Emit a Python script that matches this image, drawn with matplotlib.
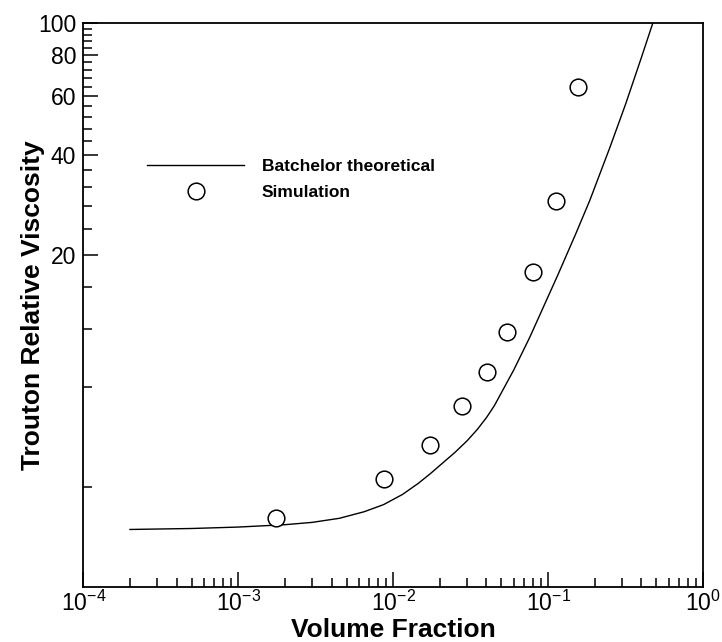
import matplotlib
matplotlib.use("Agg")
import matplotlib.pyplot as plt
from matplotlib.ticker import FixedLocator, LogLocator, LogFormatterMathtext, NullFormatter, FixedFormatter

plt.rcParams["font.family"] = ["Liberation Sans", "DejaVu Sans"]
plt.rcParams["mathtext.fontset"] = "custom"
plt.rcParams["mathtext.rm"] = "Liberation Sans"
plt.rcParams["mathtext.it"] = "Liberation Sans:italic"
plt.rcParams["mathtext.bf"] = "Liberation Sans:bold"

# Batchelor theoretical curve
theory_phi = [2e-4, 5e-4, 1e-3, 2e-3, 3e-3, 4.5e-3, 6.5e-3, 8.67e-3, 0.0115,
              0.0145, 0.0173, 0.025, 0.03, 0.035, 0.04, 0.045, 0.06, 0.0762,
              0.095, 0.1156, 0.15, 0.186, 0.25, 0.317, 0.40, 0.475]
theory_visc = [2.98, 3.00, 3.03, 3.08, 3.13, 3.22, 3.37, 3.54, 3.80,
               4.10, 4.38, 5.08, 5.51, 5.97, 6.47, 7.03, 9.0, 11.3,
               14.2, 17.4, 23.0, 29.2, 42.0, 57.0, 78.5, 100.0]

# simulation results
sim_phi = [0.00174, 0.00867, 0.0173, 0.0279, 0.0401, 0.054, 0.080, 0.112, 0.156]
sim_visc = [3.23, 4.23, 5.35, 7.02, 8.85, 11.7, 17.7, 29.1, 64.0]

y_major = [20, 40, 60, 80, 100]
y_minor = [v for v in range(4, 100, 4) if v % 20 != 0]

fig = plt.figure(figsize=(7.22, 6.42), dpi=100)
ax = fig.add_axes([0.1154, 0.0857, 0.8583, 0.8789])

ax.plot(theory_phi, theory_visc, color="black", lw=1.0, label="Batchelor theoretical")
ax.plot(sim_phi, sim_visc, ls="none", marker="o", ms=12, mfc="white", mec="black",
        mew=1.1, label="Simulation")

ax.set_xscale("log")
ax.set_yscale("log")
ax.set_xlim(1e-4, 1e0)
ax.set_ylim(2, 100)

ax.xaxis.set_major_locator(LogLocator(base=10, numticks=10))
ax.xaxis.set_major_formatter(LogFormatterMathtext())
ax.xaxis.set_minor_locator(LogLocator(base=10, subs=range(2, 10), numticks=20))
ax.xaxis.set_minor_formatter(NullFormatter())

ax.yaxis.set_major_locator(FixedLocator(y_major))
ax.yaxis.set_major_formatter(FixedFormatter([str(v) for v in y_major]))
ax.yaxis.set_minor_locator(FixedLocator(y_minor))
ax.yaxis.set_minor_formatter(NullFormatter())

for side in ["top", "right", "left", "bottom"]:
    ax.spines[side].set_linewidth(1.3)

ax.tick_params(which="both", direction="in", top=False, right=False, width=1.1,
               labelsize=16.5)
ax.tick_params(axis="y", pad=5)
ax.tick_params(axis="x", pad=3)
ax.tick_params(which="major", length=10.8)
ax.tick_params(which="minor", length=6.5)

ax.set_xlabel("Volume Fraction", fontsize=19, fontweight="bold")
ax.set_ylabel("Trouton Relative Viscosity", fontsize=19, fontweight="bold")
ax.xaxis.set_label_coords(0.5, -0.0545)
ax.yaxis.set_label_coords(-0.062, 0.5)
ax.xaxis.label.set_va("top")

ax.legend(loc="upper left", bbox_to_anchor=(0.1027, 0.758), frameon=False,
          prop={"size": 12.5, "weight": "bold"}, handlelength=5.6, handletextpad=1.0,
          labelspacing=0.6, borderpad=0, borderaxespad=0)

fig.savefig("out.png", dpi=100)
